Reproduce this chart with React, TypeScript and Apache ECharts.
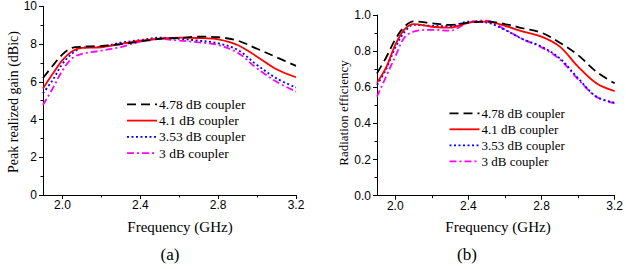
import React, { useEffect, useRef } from "react";
import * as echarts from "echarts";

const freq = [1.9, 1.95, 2.0, 2.05, 2.1, 2.2, 2.3, 2.4, 2.5, 2.6, 2.7, 2.8, 2.9, 3.0, 3.1, 3.2];
const seriesNames = ["4.78 dB coupler", "4.1 dB coupler", "3.53 dB coupler", "3 dB coupler"];

const gain478 = [6.2, 6.85, 7.45, 7.8, 7.86, 7.9, 8.0, 8.13, 8.28, 8.32, 8.39, 8.36, 8.18, 7.75, 7.3, 6.84];
const gain41 = [5.65, 6.42, 7.15, 7.62, 7.8, 7.83, 8.0, 8.18, 8.28, 8.34, 8.32, 8.25, 7.95, 7.33, 6.66, 6.24];
const gain353 = [5.39, 6.1, 6.95, 7.5, 7.8, 7.86, 8.07, 8.21, 8.34, 8.28, 8.18, 8.04, 7.69, 6.89, 6.18, 5.7];
const gain3 = [4.77, 5.65, 6.6, 7.25, 7.48, 7.65, 7.84, 8.13, 8.27, 8.18, 8.09, 7.95, 7.54, 6.71, 6.0, 5.48];

const eff478 = [0.677, 0.765, 0.865, 0.935, 0.965, 0.954, 0.945, 0.958, 0.963, 0.95, 0.926, 0.902, 0.847, 0.778, 0.686, 0.622];
const eff41 = [0.625, 0.71, 0.835, 0.92, 0.95, 0.935, 0.93, 0.957, 0.963, 0.94, 0.908, 0.88, 0.825, 0.714, 0.622, 0.579];
const eff353 = [0.613, 0.7, 0.82, 0.905, 0.945, 0.94, 0.938, 0.963, 0.958, 0.917, 0.865, 0.825, 0.76, 0.65, 0.548, 0.515];
const eff3 = [0.548, 0.66, 0.77, 0.875, 0.908, 0.918, 0.913, 0.958, 0.969, 0.92, 0.865, 0.821, 0.755, 0.644, 0.548, 0.511];

const xMajorTicks = [2.0, 2.4, 2.8, 3.2];
const xMinorTicks = [2.2, 2.6, 3.0];

const colors = ["#000000", "#ff0000", "#0000ff", "#ff00ff"];
const dashes: any[] = [[9, 5], "solid", [2, 2.5], [7, 3, 2, 3]];

const SANS = "Liberation Sans";
const SERIF = "Liberation Serif";

function makeSeries(data: number[][], xi: number, yi: number) {
  return data.map((vals, i) => ({
    name: seriesNames[i],
    type: "line",
    xAxisIndex: xi,
    yAxisIndex: yi,
    symbol: "none",
    smooth: 0.35,
    data: freq.map((f, k) => [f, vals[k]]),
    lineStyle: { color: colors[i], width: 1.8, type: dashes[i] },
    itemStyle: { color: colors[i] },
    z: 10 - i,
  }));
}

function mainX(grid: number) {
  return {
    type: "value",
    gridIndex: grid,
    min: 1.9,
    max: 3.2,
    axisLine: { show: true, lineStyle: { color: "#000", width: 1 } },
    axisTick: { show: true, inside: false, length: 4, customValues: xMajorTicks, lineStyle: { color: "#000" } },
    axisLabel: {
      show: true,
      customValues: xMajorTicks,
      formatter: (v: number) => v.toFixed(1),
      color: "#000",
      fontFamily: SANS,
      fontSize: 12,
      margin: 4,
    },
    splitLine: { show: false },
  };
}

function minorX(grid: number) {
  return {
    type: "value",
    gridIndex: grid,
    min: 1.9,
    max: 3.2,
    position: "bottom",
    axisLine: { show: false },
    axisTick: { show: true, inside: false, length: 2.5, customValues: xMinorTicks, lineStyle: { color: "#000" } },
    axisLabel: { show: false },
    splitLine: { show: false },
  };
}

function makeY(grid: number, max: number, interval: number, fmt: (v: number) => string) {
  return {
    type: "value",
    gridIndex: grid,
    min: 0,
    max,
    interval,
    axisLine: { show: true, lineStyle: { color: "#000", width: 1 } },
    axisTick: { show: true, inside: false, length: 4, lineStyle: { color: "#000" } },
    minorTick: { show: true, splitNumber: 2, length: 2.5, lineStyle: { color: "#000" } },
    axisLabel: { color: "#000", fontFamily: SANS, fontSize: 12, margin: 6, formatter: fmt },
    splitLine: { show: false },
    minorSplitLine: { show: false },
  };
}

function legendGraphics(x0: number, y0: number, rowGap: number, fontSize: number) {
  const els: any[] = [];
  seriesNames.forEach((name, i) => {
    const y = y0 + i * rowGap;
    const d = dashes[i];
    els.push({
      type: "line",
      shape: { x1: x0, y1: y, x2: x0 + 30, y2: y },
      style: { stroke: colors[i], lineWidth: 1.8, lineDash: Array.isArray(d) ? d : null },
      z: 50,
    });
    els.push({
      type: "text",
      x: x0 + 32,
      y,
      style: { text: name, fontFamily: SERIF, fontSize, fill: "#000", align: "left", verticalAlign: "middle" },
      z: 50,
    });
  });
  return els;
}

function label(text: string, x: number, y: number, fontSize: number, rotate = false) {
  return {
    type: "text",
    x,
    y,
    rotation: rotate ? Math.PI / 2 : 0,
    style: { text, fontFamily: SERIF, fontSize, fill: "#000", align: "center", verticalAlign: "middle" },
  };
}

export default function App() {
  const ref = useRef<HTMLDivElement>(null);
  useEffect(() => {
    if (!ref.current) return;
    const chart = echarts.init(ref.current, null, { renderer: "svg" });
    const option: any = {
      animation: false,
      backgroundColor: "#ffffff",
      textStyle: { fontFamily: SANS },
      grid: [
        { left: 43, top: 6.3, width: 253, height: 188.7, containLabel: false },
        { left: 377, top: 15, width: 243, height: 180.7, containLabel: false },
      ],
      xAxis: [mainX(0), minorX(0), mainX(1), minorX(1)],
      yAxis: [
        makeY(0, 10, 2, (v: number) => String(v)),
        makeY(1, 1, 0.2, (v: number) => v.toFixed(1)),
      ],
      series: [
        ...makeSeries([gain478, gain41, gain353, gain3], 0, 0),
        ...makeSeries([eff478, eff41, eff353, eff3], 2, 1),
      ],
      graphic: [
        ...legendGraphics(127, 104.3, 16.3, 13.5),
        ...legendGraphics(449.5, 113.3, 16, 13),
        label("Peak realized gain (dBic)", 13, 102, 14, true),
        label("Radiation efficiency", 343, 113, 13, true),
        label("Frequency (GHz)", 180, 227, 15),
        label("Frequency (GHz)", 498, 227, 15),
        label("(a)", 170, 254, 17),
        label("(b)", 467, 254, 17),
      ],
    };
    chart.setOption(option);
    return () => chart.dispose();
  }, []);
  return (
    <div
      ref={ref}
      style={{ position: "fixed", left: 0, top: 0, width: 626, height: 269, background: "#fff" }}
    />
  );
}
